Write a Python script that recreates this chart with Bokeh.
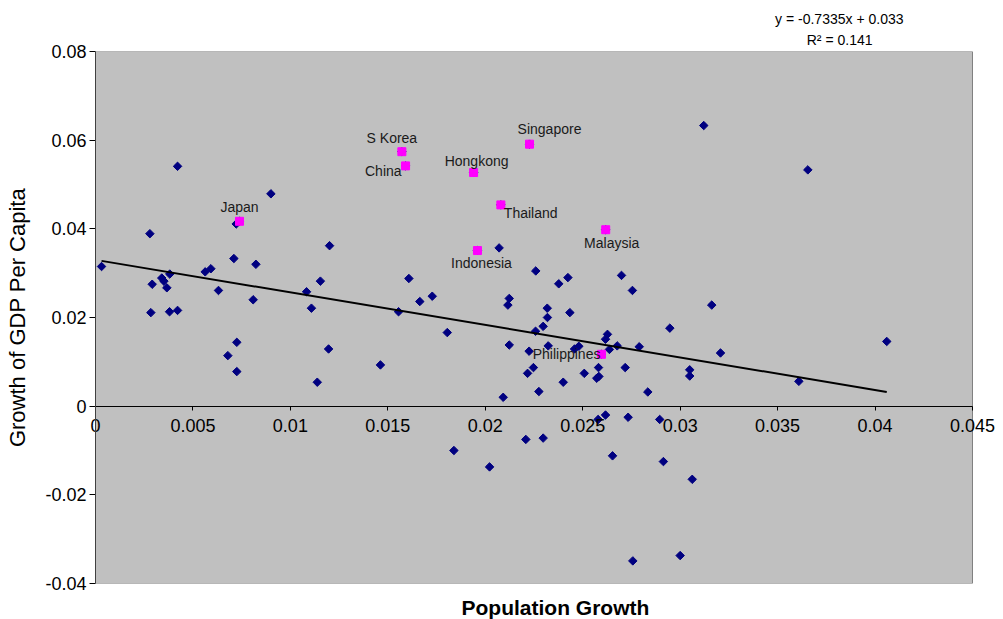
import numpy as np
from bokeh.plotting import figure
from bokeh.models import Range1d, FixedTicker, NumeralTickFormatter, Title, ColumnDataSource, Span
from bokeh.embed import file_html
from bokeh.resources import INLINE
from bokeh.core.properties import value

# ---- data ----
pop_growth = [
    0.00421, 0.00900, 0.00722, 0.03121, 0.03655, 0.00279, 0.00031, 0.00710, 0.00823, 0.00291,
    0.00340, 0.00351, 0.00381, 0.00366, 0.00563, 0.00592, 0.00631, 0.00809, 0.00284, 0.00380,
    0.00421, 0.01083, 0.01108, 0.01154, 0.00725, 0.00679, 0.00725, 0.01138, 0.01201, 0.02071,
    0.02259, 0.01608, 0.01728, 0.01664, 0.01555, 0.01805, 0.02123, 0.02116, 0.02318, 0.02319,
    0.02297, 0.02258, 0.01196, 0.01462, 0.02123, 0.02225, 0.02323, 0.02247, 0.02217, 0.02275,
    0.02092, 0.02424, 0.02377, 0.02699, 0.02755, 0.03162, 0.02434, 0.02947, 0.02627, 0.02617,
    0.02480, 0.02458, 0.02677, 0.02637, 0.02790, 0.03207, 0.02581, 0.02718, 0.02508, 0.02583,
    0.02572, 0.03049, 0.03049, 0.02400, 0.02834, 0.04060, 0.03609, 0.01839, 0.02022, 0.02208,
    0.02297, 0.02617, 0.02579, 0.02733, 0.02895, 0.02653, 0.02914, 0.03062, 0.02757, 0.03000,
]
gdp_growth = [
    0.0541, 0.0479, 0.0411, 0.0633, 0.0533, 0.0389, 0.0315, 0.0333, 0.0320, 0.0275,
    0.0289, 0.0282, 0.0298, 0.0267, 0.0303, 0.0310, 0.0261, 0.0240, 0.0211, 0.0213,
    0.0216, 0.0258, 0.0221, 0.0282, 0.0144, 0.0114, 0.0078, 0.0054, 0.0362, 0.0357,
    0.0305, 0.0288, 0.0248, 0.0236, 0.0213, 0.0166, 0.0243, 0.0228, 0.0221, 0.0200,
    0.0180, 0.0169, 0.0129, 0.0093, 0.0138, 0.0124, 0.0136, 0.0087, 0.0074, 0.0033,
    0.0020, 0.0290, 0.0276, 0.0295, 0.0261, 0.0228, 0.0211, 0.0176, 0.0162, 0.0151,
    0.0135, 0.0129, 0.0136, 0.0128, 0.0134, 0.0120, 0.0087, 0.0087, 0.0074, 0.0067,
    0.0063, 0.0082, 0.0068, 0.0054, 0.0032, 0.0146, 0.0056, -0.0100, -0.0137, -0.0075,
    -0.0072, -0.0020, -0.0030, -0.0025, -0.0030, -0.0112, -0.0125, -0.0165, -0.0349, -0.0337,
]
asia_names = ["Japan", "S Korea", "China", "Hongkong", "Singapore",
              "Thailand", "Indonesia", "Malaysia", "Philippines"]
asia_pop = [0.00739, 0.01572, 0.01591, 0.01940, 0.02227, 0.02080, 0.01960, 0.02618, 0.02596]
asia_gdp = [0.0417, 0.0574, 0.0542, 0.0527, 0.0591, 0.0454, 0.0351, 0.0398, 0.0117]

slope = -0.7335
intercept = 0.033
r_squared = 0.141

x_ticks = [0, 0.005, 0.01, 0.015, 0.02, 0.025, 0.03, 0.035, 0.04, 0.045]
y_ticks = [-0.04, -0.02, 0, 0.02, 0.04, 0.06, 0.08]
x_min, x_max = 0, 0.045
y_min, y_max = -0.04, 0.08

x_title = "Population Growth"
y_title = "Growth of GDP Per Capita"

# label placement (screen px offsets, alignment) -- layout only
label_style = {
    "Japan": ("center", 0, -14),
    "S Korea": ("center", -10, -14),
    "China": ("right", -4, 5),
    "Hongkong": ("center", 3, -12),
    "Singapore": ("center", 20, -15),
    "Thailand": ("left", 3, 8),
    "Indonesia": ("center", 4, 12),
    "Malaysia": ("center", 6, 13),
    "Philippines": ("right", -1, 0),
}

FONT = "Liberation Sans"

all_x = pop_growth + asia_pop
all_y = gdp_growth + asia_gdp

# the frame is a little wider than the plot area so that the end tick labels of
# the zero-crossing x axis are not clipped
pad_left = 0.000308
pad_right = 0.001283

p = figure(width=1003, height=619,
           x_range=Range1d(x_min - pad_left, x_max + pad_right),
           y_range=Range1d(y_min, y_max),
           output_backend="svg", toolbar_location=None,
           min_border_left=89, min_border_right=6, min_border_top=51, min_border_bottom=36,
           background_fill_color="white", border_fill_color="white",
           outline_line_color=None)
p.grid.visible = False

# grey plot area
p.quad(left=[x_min], right=[x_max], bottom=[y_min], top=[y_max],
       fill_color="#C0C0C0", line_color="#808080", line_width=1)
p.add_layout(Span(location=x_min, dimension="height", line_color="#404040", line_width=1))

# axes
p.xaxis.fixed_location = 0
p.xaxis.bounds = (x_min, x_max)
p.xaxis.ticker = FixedTicker(ticks=x_ticks)
p.yaxis.ticker = FixedTicker(ticks=y_ticks)
for ax in (p.xaxis, p.yaxis):
    ax.formatter = NumeralTickFormatter(format="0.[000]")
    ax.major_label_text_font = FONT
    ax.major_label_text_font_size = "18px"
    ax.major_label_text_color = "#000000"
    ax.major_tick_line_color = "#000000"
    ax.minor_tick_line_color = None
p.xaxis.axis_line_color = "#000000"
p.xaxis.major_tick_in = 0
p.xaxis.major_tick_out = 4
p.xaxis.major_label_standoff = 9
p.yaxis.axis_line_color = None
p.yaxis.major_tick_out = 0
p.yaxis.major_tick_in = 6
p.yaxis.major_label_standoff = 3
p.yaxis.axis_label = y_title
p.yaxis.axis_label_text_font = FONT
p.yaxis.axis_label_text_font_size = "22px"
p.yaxis.axis_label_text_font_style = "normal"
p.yaxis.axis_label_text_color = "#000000"
p.yaxis.axis_label_standoff = 12

# data points (all countries) and highlighted East Asian countries
p.scatter(all_x, all_y, marker="square", angle=np.pi / 4, size=6,
          fill_color="#000080", line_color="#000080")
p.scatter(asia_pop, asia_gdp, marker="square", size=8,
          fill_color="#FF00FF", line_color="#FF00FF")

# linear trend line over the data range
x_lo, x_hi = min(all_x), max(all_x)
p.line([x_lo, x_hi], [slope * x_lo + intercept, slope * x_hi + intercept],
       line_color="black", line_width=2)

# country labels
for align in ("center", "left", "right"):
    idx = [i for i, n in enumerate(asia_names) if label_style[n][0] == align]
    src = ColumnDataSource(dict(
        x=[asia_pop[i] for i in idx],
        y=[asia_gdp[i] for i in idx],
        t=[asia_names[i] for i in idx],
        dx=[label_style[asia_names[i]][1] for i in idx],
        dy=[label_style[asia_names[i]][2] for i in idx],
    ))
    p.text(x="x", y="y", text="t", x_offset="dx", y_offset="dy", source=src,
           text_align=align, text_baseline="middle",
           text_font=value(FONT), text_font_size="14px", text_color="#1a1a1a")

# trend equation above the plot (first added sits nearest the frame)
p.add_layout(Title(text=f"R\u00b2 = {r_squared}", align="right", offset=125,
                   vertical_align="middle", standoff=6,
                   text_font=FONT, text_font_size="14px", text_font_style="normal",
                   text_color="#000000"), "above")
p.add_layout(Title(text=f"y = {slope}x + {intercept}", align="right", offset=94,
                   vertical_align="middle", standoff=0,
                   text_font=FONT, text_font_size="14px", text_font_style="normal",
                   text_color="#000000"), "above")

# x axis title below the plot area (small spacer first)
p.add_layout(Title(text=" ", text_font_size="1px", standoff=7), "below")
p.add_layout(Title(text=x_title, align="left", offset=372, standoff=0,
                   text_font=FONT, text_font_size="21px", text_font_style="bold",
                   text_color="#000000"), "below")

open("out.html", "w").write(file_html(p, INLINE))
